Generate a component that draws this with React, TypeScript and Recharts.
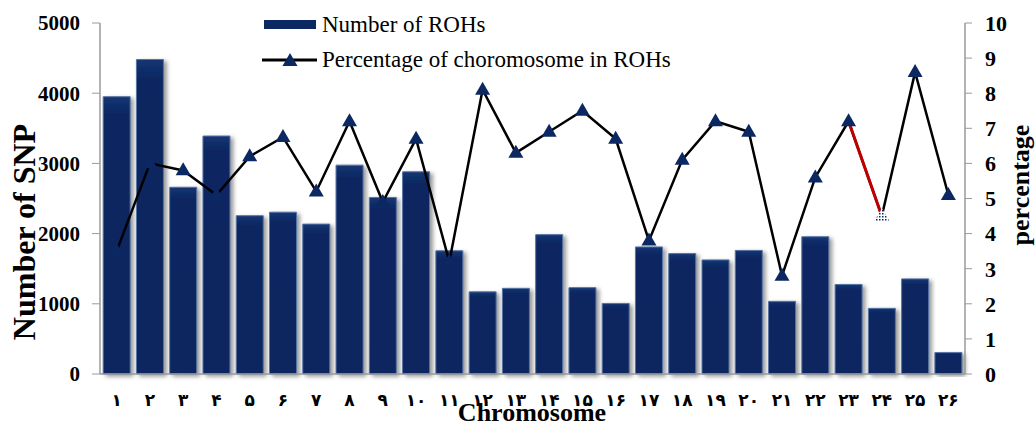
import React from 'react';
import { ComposedChart, Bar, Line, XAxis, YAxis, Label } from 'recharts';

const chromosomeLabels = ['۱','۲','۳','۴','۵','۶','۷','۸','۹','۱۰','۱۱','۱۲','۱۳','۱۴','۱۵','۱۶','۱۷','۱۸','۱۹','۲۰','۲۱','۲۲','۲۳','۲۴','۲۵','۲۶'];
const rohCounts = [3950,4480,2660,3390,2255,2305,2135,2975,2515,2880,1755,1170,1220,1985,1230,1005,1810,1715,1625,1760,1035,1955,1275,935,1355,305];
const rohPercent = [3.5,6.0,5.8,5.1,6.2,6.75,5.2,7.2,4.9,6.7,3.2,8.1,6.3,6.9,7.5,6.7,3.8,6.1,7.2,6.9,2.8,5.6,7.2,4.5,8.6,5.1];
const highlightedSegment = ['۲۳','۲۴'];
const dottedMarker = '۲۴';
const leftTicks = [0,1000,2000,3000,4000,5000];
const rightTicks = [0,1,2,3,4,5,6,7,8,9,10];

const data = chromosomeLabels.map((chr, i) => ({
  chr,
  roh: rohCounts[i],
  pct: rohPercent[i],
  red: highlightedSegment.includes(chr) ? rohPercent[i] : null,
}));

const NAVY = '#0b2862';
const serif = '"Liberation Serif", "Times New Roman", serif';

const TriangleDot = (props: any) => {
  const { cx, cy, payload } = props;
  if (cx == null || cy == null) return null;
  const w = 15, h = 13;
  const d = `M${cx},${cy - h * 0.62} L${cx + w / 2},${cy + h * 0.38} L${cx - w / 2},${cy + h * 0.38} Z`;
  const dotted = payload && payload.chr === dottedMarker;
  return <path d={d} fill={dotted ? 'url(#dotPattern)' : NAVY} stroke="none" />;
};

const LegendBox = () => (
  <div style={{ position: 'absolute', left: 261, top: 7, fontFamily: serif, fontSize: 23, color: '#000', lineHeight: '35px', whiteSpace: 'nowrap' }}>
    <div style={{ display: 'flex', alignItems: 'center' }}>
      <svg width={61} height={12} style={{ display: 'block' }}>
        <rect x={3} y={1} width={52} height={9} fill={NAVY} />
      </svg>
      <span>Number of ROHs</span>
    </div>
    <div style={{ display: 'flex', alignItems: 'center' }}>
      <svg width={61} height={16} style={{ display: 'block' }}>
        <line x1={1} y1={8} x2={56} y2={8} stroke="#000" strokeWidth={3} />
        <path d="M29,1 L36.5,14 L21.5,14 Z" fill={NAVY} />
      </svg>
      <span>Percentage of choromosome in ROHs</span>
    </div>
  </div>
);

export default function App() {
  return (
    <div style={{ position: 'absolute', left: 0, top: 0, width: 1036, height: 428 }}>
      <ComposedChart width={1036} height={428} data={data} margin={{ top: 23, right: 0, bottom: 0, left: 0 }} barCategoryGap="9.5%">
        <defs>
          <filter id="barShadow" x="-20%" y="-5%" width="150%" height="115%">
            <feDropShadow dx="3" dy="2" stdDeviation="2" floodColor="#777" floodOpacity="0.75" />
          </filter>
          <linearGradient id="barGrad" x1="0" y1="0" x2="0" y2="1">
            <stop offset="0" stopColor="#153572" />
            <stop offset="0.06" stopColor="#0b2862" />
            <stop offset="1" stopColor="#0a2660" />
          </linearGradient>
          <pattern id="dotPattern" width="3" height="3" patternUnits="userSpaceOnUse">
            <rect width="3" height="3" fill="#fff" />
            <rect width="1.5" height="1.5" fill={NAVY} />
          </pattern>
        </defs>
        <XAxis
          dataKey="chr"
          interval={0}
          height={54}
          axisLine={{ stroke: '#9a9a9a', strokeWidth: 1.5 }}
          tickLine={false}
          tickMargin={14}
          tick={{ fill: '#000', fontSize: 17, fontWeight: 700, fontFamily: '"DejaVu Sans", sans-serif' }}
        >
          <Label content={() => (
            <text x={532} y={421} textAnchor="middle" fontFamily={serif} fontWeight={700} fontSize={26} fill="#000">Chromosome</text>
          )} />
        </XAxis>
        <YAxis
          yAxisId="left"
          width={100}
          domain={[0, 5000]}
          ticks={leftTicks}
          axisLine={{ stroke: '#9a9a9a', strokeWidth: 1.5 }}
          tickLine={{ stroke: '#9a9a9a' }}
          tickSize={8}
          tickMargin={12}
          tick={{ fill: '#000', fontSize: 21, fontWeight: 700, fontFamily: serif }}
        >
          <Label content={() => (
            <text x={35} y={232} transform="rotate(-90 35 232)" textAnchor="middle" fontFamily={serif} fontWeight={700} fontSize={32} fill="#000">Number of SNP</text>
          )} />
        </YAxis>
        <YAxis
          yAxisId="right"
          orientation="right"
          width={71}
          domain={[0, 10]}
          ticks={rightTicks}
          axisLine={{ stroke: '#9a9a9a', strokeWidth: 1.5 }}
          tickLine={{ stroke: '#9a9a9a' }}
          tickSize={7}
          tickMargin={13}
          tick={{ fill: '#000', fontSize: 22, fontWeight: 700, fontFamily: serif }}
        >
          <Label content={() => (
            <text x={1029} y={185} transform="rotate(-90 1029 185)" textAnchor="middle" fontFamily={serif} fontWeight={700} fontSize={26} fill="#000">percentage</text>
          )} />
        </YAxis>
        <Bar yAxisId="left" dataKey="roh" fill="url(#barGrad)" stroke="#5575a5" strokeWidth={1} filter="url(#barShadow)" isAnimationActive={false} />
        <Line yAxisId="right" dataKey="pct" stroke="#000" strokeWidth={2.5} dot={false} activeDot={false} isAnimationActive={false} />
        <Line yAxisId="right" dataKey="red" stroke="#c00000" strokeWidth={3} dot={false} activeDot={false} connectNulls={false} isAnimationActive={false} />
        <Line yAxisId="right" dataKey="pct" stroke="none" strokeWidth={0} dot={<TriangleDot />} activeDot={false} isAnimationActive={false} />
      </ComposedChart>
      <LegendBox />
    </div>
  );
}
